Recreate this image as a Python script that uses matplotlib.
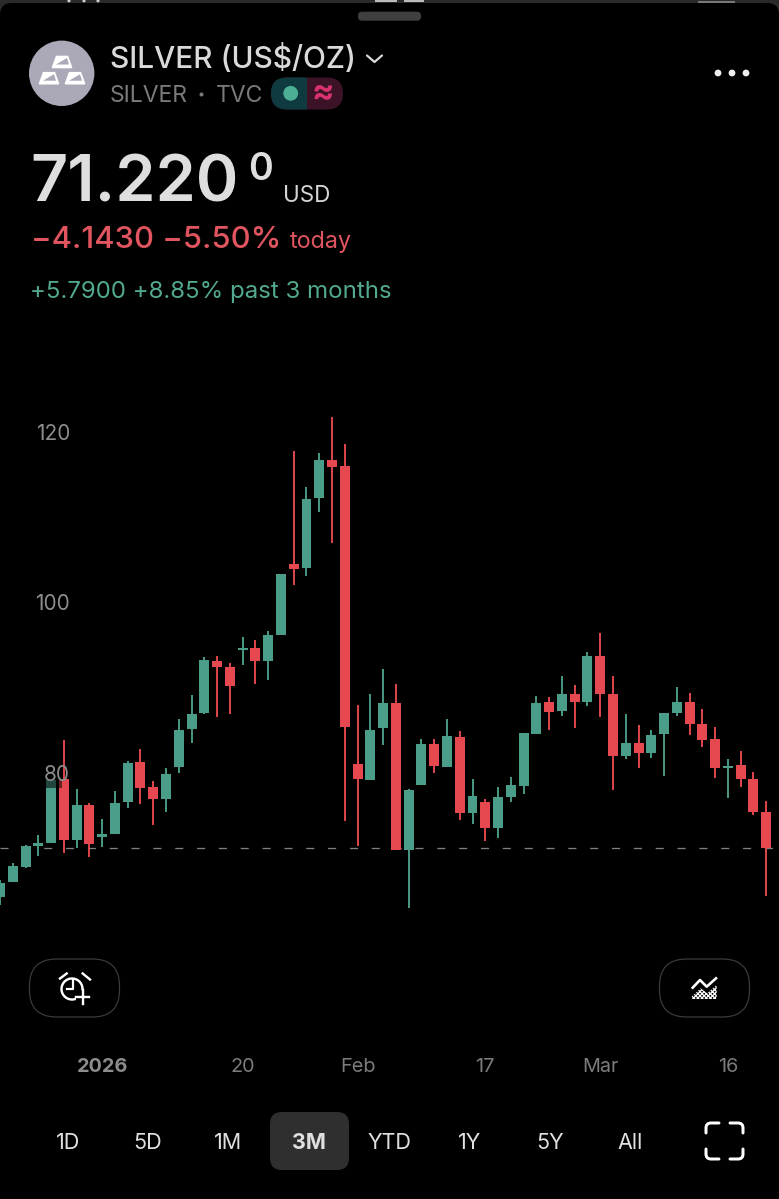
import numpy as np
import matplotlib
matplotlib.use("Agg")
from matplotlib import pyplot as plt
from matplotlib.patches import Circle, FancyBboxPatch, Polygon, Rectangle, PathPatch
from matplotlib.path import Path

plt.rcParams['font.family'] = ['Inter', 'DejaVu Sans']
plt.rcParams['hatch.linewidth'] = 0.9

# silver daily candles
opens = [65.46, 67.15, 68.98, 71.44, 71.79, 79.23, 72.11, 76.25, 72.43, 72.78,
         76.60, 81.22, 78.36, 76.95, 80.70, 85.12, 87.03, 93.13, 92.36, 94.35,
         94.58, 93.09, 96.14, 104.43, 104.00, 112.17, 116.66, 115.92, 81.02, 79.18,
         85.21, 88.17, 70.94, 78.59, 83.36, 80.70, 84.19, 75.28, 76.53, 73.48,
         77.19, 78.48, 84.57, 88.25, 87.27, 89.23, 88.25, 93.72, 89.23, 81.99,
         83.48, 82.27, 84.50, 86.99, 88.29, 85.71, 83.92, 80.55, 80.94, 79.30, 75.39]
closes = [67.10, 69.06, 71.41, 71.76, 79.14, 72.11, 76.25, 71.64, 72.81, 76.48,
          81.17, 78.17, 76.95, 79.85, 85.04, 86.88, 93.18, 92.43, 90.13, 94.58,
          93.09, 96.14, 103.26, 103.88, 112.12, 116.62, 115.84, 85.36, 79.30, 85.04,
          88.17, 70.94, 77.97, 83.33, 80.79, 84.27, 75.28, 77.27, 73.48, 77.15,
          78.52, 84.62, 88.17, 87.12, 89.23, 88.25, 93.72, 89.26, 81.99, 83.48,
          82.27, 84.45, 86.96, 88.29, 85.71, 83.83, 80.55, 80.75, 79.30, 75.39, 71.22]
highs = [67.42, 69.45, 71.52, 72.70, 79.14, 83.80, 78.05, 76.41, 74.54, 77.89,
         81.41, 82.74, 78.99, 80.52, 86.26, 89.11, 93.53, 93.72, 92.82, 95.87,
         95.56, 96.58, 103.26, 117.75, 113.46, 117.48, 121.66, 118.50, 87.90, 89.19,
         92.16, 90.40, 78.12, 83.99, 83.99, 86.30, 84.89, 79.30, 76.88, 78.29,
         79.46, 84.62, 89.03, 88.87, 91.34, 90.32, 94.11, 96.41, 91.34, 86.85,
         85.56, 84.97, 87.03, 90.05, 89.38, 87.43, 85.39, 81.64, 82.51, 80.12, 76.65]
lows = [64.49, 67.15, 68.83, 70.20, 71.79, 70.55, 71.21, 70.08, 71.29, 72.78,
        75.90, 76.37, 73.83, 75.43, 79.93, 83.45, 86.92, 86.49, 86.92, 92.63,
        90.40, 90.83, 96.14, 101.97, 103.06, 110.60, 106.89, 74.37, 71.41, 79.18,
        83.28, 70.94, 64.10, 78.52, 80.00, 80.70, 74.42, 73.99, 71.96, 72.34,
        76.53, 77.47, 84.57, 84.97, 86.61, 85.28, 87.85, 86.56, 77.94, 81.57,
        80.52, 81.72, 79.65, 86.61, 84.45, 83.05, 79.41, 77.07, 78.29, 75.04, 65.51]
last_price = 71.22

y_ticks = [80, 100, 120]
x_tick_idx = [8, 19, 28, 38, 47, 57]
x_tick_labels = ['2026', '20', 'Feb', '17', 'Mar', '16']
ranges = ['1D', '5D', '1M', '3M', 'YTD', '1Y', '5Y', 'All']

GREEN = '#4a9d88'
RED = '#e5484f'
W, H = 779, 1199
PX = 0.72  # points per pixel at dpi 100

fig = plt.figure(figsize=(W / 100, H / 100), dpi=100, facecolor='black')

# chart area, y pixels 330 to 1045
ax = fig.add_axes([0, 1 - 1045 / H, 1, 715 / H], facecolor='none')
ax.set_xlim(0, 61)
ax.set_ylim(48.08, 131.90)
for s in ax.spines.values():
    s.set_visible(False)
ax.set_axisbelow(False)

idx = np.arange(len(opens))
opens = np.array(opens)
closes = np.array(closes)
colors = [GREEN if c >= o else RED for o, c in zip(opens, closes)]

ax.axhline(last_price, color='#808080', lw=1.3 * PX, linestyle=(0, (6.2, 10.6)), zorder=0.5)
ax.vlines(idx, lows, highs, colors=colors, lw=1.9 * PX, zorder=1)
ax.bar(idx, np.abs(closes - opens), bottom=np.minimum(opens, closes), width=0.78, color=colors, zorder=1.2)
# the 80 label has a dim backing that shades the candles below it
ax.add_patch(Rectangle((2.2, 78.15), 2.65, 3.4, facecolor='black', alpha=0.55, lw=0, zorder=2))

ax.set_yticks(y_ticks)
ax.set_xticks(x_tick_idx)
ax.set_xticklabels(x_tick_labels)
ax.tick_params(axis='y', direction='in', length=0, pad=-70 * PX, labelsize=15, labelcolor='#8c8c8c')
ax.tick_params(axis='x', length=0, pad=13 * PX, labelsize=14.3, labelcolor='#7c7c7c')
ax.get_xticklabels()[0].set_fontweight('bold')
ax.get_xticklabels()[0].set_color('#8c8c8c')

# everything else is app chrome, drawn in screen pixels
ui = fig.add_axes([0, 0, 1, 1], facecolor='none')
ui.set_xlim(0, W)
ui.set_ylim(H, 0)
ui.axis('off')

# sheet edge and grabber
ui.add_patch(Rectangle((0, 0), W, 14, facecolor='#2a2a2a', lw=0, zorder=0))
ui.add_patch(FancyBboxPatch((0, 3), W, 40, boxstyle='round,pad=0,rounding_size=12', facecolor='black', lw=0, zorder=0.1))
for x in [69, 84, 98]:
    ui.add_patch(Circle((x, 0.8), 1.6, facecolor='#cccccc', lw=0))
ui.add_patch(Rectangle((375, 0), 22, 2, facecolor='#bbbbbb', lw=0))
ui.add_patch(Rectangle((404, 0), 20, 2, facecolor='#bbbbbb', lw=0))
ui.add_patch(Rectangle((698, 1), 37, 1.5, facecolor='#777777', lw=0))
ui.add_patch(FancyBboxPatch((358, 11.7), 63, 9, boxstyle='round,pad=0,rounding_size=4', facecolor='#3f3f3f', lw=0))

# logo
ui.add_patch(Circle((61.7, 73.3), 32.7, facecolor='#aba9b8', lw=0))
for cx, cy in [(62, 62), (49, 78.2), (75, 78.2)]:
    ui.add_patch(Polygon([(cx - 5.5, cy - 5.5), (cx + 5.5, cy - 5.5), (cx + 9.5, cy + 5.5), (cx - 9.5, cy + 5.5)],
                         closed=True, facecolor='white', edgecolor='white', lw=1.6 * PX, joinstyle='round'))
    ui.add_patch(Polygon([(cx - 6, cy + 2.5), (cx + 5, cy - 4), (cx + 7, cy + 2.5)], closed=True, facecolor='#aba9b8', lw=0))

ui.text(110, 68.5, 'SILVER (US$/OZ)', color='#dadada', fontsize=21.5, fontweight='medium')
ui.plot([367, 374.5, 382], [55.5, 62, 55.5], color='#dadada', lw=2.2 * PX, solid_capstyle='round')
ui.text(110, 102, 'SILVER', color='#7b7b7b', fontsize=16.5)
ui.add_patch(Circle((201.5, 94.5), 2, facecolor='#7b7b7b', lw=0))
ui.text(216, 102, 'TVC', color='#7b7b7b', fontsize=16.5)

# status pill
ui.add_patch(FancyBboxPatch((271, 77.5), 72, 32, boxstyle='round,pad=0,rounding_size=16', facecolor='#3b1226', lw=0))
pill_left = FancyBboxPatch((271, 77.5), 72, 32, boxstyle='round,pad=0,rounding_size=16', facecolor='#0e3a40', lw=0)
ui.add_patch(pill_left)
pill_left.set_clip_path(Rectangle((271, 77), 36, 33, transform=ui.transData))
ui.add_patch(Circle((290.7, 93.3), 7.4, facecolor='#4cae94', lw=0))
ui.text(323.3, 93.3, '≈', color='#d8336d', fontsize=24, fontweight='bold', ha='center', va='center')

for x in [718, 732, 746]:
    ui.add_patch(Circle((x, 73), 3.4, facecolor='#eeeeee', lw=0))

# price block
ui.text(30, 202, '71.220', color='#dedede', fontsize=46.5, fontweight='semibold')
ui.text(248, 180, '0', color='#dedede', fontsize=27, fontweight='semibold')
ui.text(283, 202, 'USD', color='#d5d5d5', fontsize=16.2)
ui.text(31, 248, '−4.1430 −5.50%', color='#e0555f', fontsize=22.3, fontweight='medium')
ui.text(290, 248, 'today', color='#e0555f', fontsize=16.8)
ui.text(30, 298, '+5.7900 +8.85% past 3 months', color='#52a990', fontsize=17.3)

# round buttons
for x in [29.5, 659.5]:
    ui.add_patch(FancyBboxPatch((x, 959), 90, 58, boxstyle='round,pad=0,rounding_size=27',
                                facecolor='black', edgecolor='#3c3c3c', lw=1.2 * PX))

# alarm icon, ring left open at the lower right for the plus
ring = np.radians(np.arange(75, 361, 5))
ui.plot(72 + 10.5 * np.cos(ring), 989 + 10.5 * np.sin(ring), color='white', lw=2.4 * PX)
ui.plot([72.7, 72.7, 67.5], [980, 988.5, 988.5], color='white', lw=2.2 * PX)
ui.plot([60, 66.7], [978.5, 973.5], color='white', lw=2.4 * PX)
ui.plot([82.7, 90], [973.5, 979.5], color='white', lw=2.4 * PX)
ui.plot([82.7, 82.7], [990, 1003.5], color='white', lw=2.4 * PX)
ui.plot([76, 89.5], [996.7, 996.7], color='white', lw=2.4 * PX)

# indicator icon
ui.plot([692.7, 700, 706.7, 716], [987.7, 980, 986.7, 978.3], color='white', lw=2.6 * PX)
ui.add_patch(Polygon([(691.7, 999), (691.7, 996.7), (700.7, 988.3), (707.3, 993.3), (716.7, 985), (716.7, 999)],
                     closed=True, facecolor='black', edgecolor='white', hatch='xxxxxxxx', lw=0))

# range selector
ui.add_patch(FancyBboxPatch((270, 1112), 79, 58, boxstyle='round,pad=0,rounding_size=12', facecolor='#2f2f2f', lw=0))
for i, label in enumerate(ranges):
    ui.text(67.6 + i * 80.4, 1143, label, color='#e0e0e0', fontsize=15.5, ha='center', va='center',
            fontweight='bold' if label == '3M' else 'normal')

# fullscreen brackets
for sx, sy, cx, cy in [(-1, -1, 713, 1130), (1, -1, 736, 1130), (-1, 1, 713, 1152), (1, 1, 736, 1152)]:
    verts = [(cx + sx * 7, cy + sy * -3), (cx + sx * 7, cy + sy * 2), (cx + sx * 7, cy + sy * 7), (cx + sx * 2, cy + sy * 7), (cx + sx * -6, cy + sy * 7)]
    codes = [Path.MOVETO, Path.LINETO, Path.CURVE3, Path.CURVE3, Path.LINETO]
    ui.add_patch(PathPatch(Path(verts, codes), facecolor='none', edgecolor='white', lw=3 * PX, capstyle='round'))

fig.savefig('out.png', dpi=100, facecolor='black')
